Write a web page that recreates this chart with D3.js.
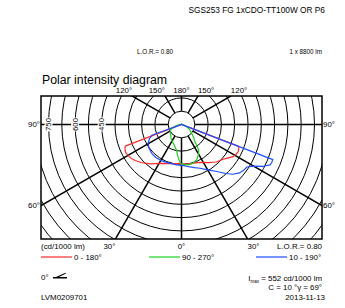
<!DOCTYPE html>
<html>
<head>
<meta charset="utf-8">
<script src="https://cdn.jsdelivr.net/npm/d3@7"></script>
<style>
  body { margin: 0; background: #fff; }
  text { font-family: "Liberation Sans", Arial, sans-serif; fill: #000; }
</style>
</head>
<body>
<script>
// ring values (cd/1000 lm) and spoke angles
const rings = [75, 150, 225, 300, 375, 450, 525, 600, 675, 750, 825, 900, 975, 1050, 1125];
const ringLabels = [450, 600, 750];
const spokes = [0, 30, 60, 90, 120, 150, 180];
const topLabels = [120, 150, 180];
const sideLabels = [90, 60];
const bottomLabels = [30, 0];

// [gamma, cd/1000lm] per half plane
const redC0 = [[0,225],[5,224],[10,226],[16,228],[22,232],[29,244],[35,262],[43,289],[50,305],[54,322],[58,342],[61,350],[64,354],[66.5,352],[69,345],[70,3],[90,2],[180,2]];
const redC180 = [[0,225],[3,220],[6,222],[12,226],[18,232],[28,248],[38,282],[47,314],[52,330],[56,342],[60,348],[63,352],[65,350],[67,346],[69,340],[70,3],[90,2],[180,2]];
const greenC90 = [[0,225],[5,229],[9,231],[16,228],[23,218],[29,196],[34,172],[38,124],[44,96],[49,76],[60,50],[67,32],[80,12],[90,4],[180,2]];
const greenC270 = [[0,225],[3,208],[7,178],[11,147],[15,135],[22,118],[31,106],[38,96],[45,86],[55,78],[64,70],[75,40],[85,12],[90,4],[180,2]];
const blueC10 = [[0,230],[3,232],[7,237],[11,243],[17,254],[23,268],[30,295],[37,332],[42,372],[46,404],[50,425],[52,431],[54,436],[57,440],[60,470],[63,519],[65.5,549],[67,552],[69,552],[70,3],[90,2],[180,2]];
const blueC190 = [[0,230],[7,229],[16,228],[24,231],[31,234],[38,236],[46,234],[55,226],[61,214],[66,198],[70,178],[71.5,3],[90,2],[180,2]];

const legend = [
  {name: '0 - 180°', color: '#ff2a2a', right: redC0, left: redC180, x: 41},
  {name: '90 - 270°', color: '#22d022', right: greenC90, left: greenC270, x: 149},
  {name: '10 - 190°', color: '#1f4fff', right: blueC10, left: blueC190, x: 256}
];

const width = 345, height = 308;
const box = {x0: 41, y0: 96, x1: 322, y1: 239};
const cx = 181.5, cy = 124.5;

const r = d3.scaleLinear().domain([0, 750]).range([0, 133]);

const svg = d3.select('body').append('svg')
  .attr('width', width)
  .attr('height', height);

svg.append('defs').append('clipPath').attr('id', 'clip')
  .append('rect')
  .attr('x', box.x0).attr('y', box.y0)
  .attr('width', box.x1 - box.x0).attr('height', box.y1 - box.y0);

// header
svg.append('text').attr('x', 325).attr('y', 13).attr('text-anchor', 'end')
  .style('font-size', '8.3px').text('SGS253 FG 1xCDO-TT100W OR P6');
svg.append('text').attr('x', 155).attr('y', 54).attr('text-anchor', 'middle')
  .style('font-size', '6.3px').text('L.O.R.= 0.80');
svg.append('text').attr('x', 322).attr('y', 54).attr('text-anchor', 'end')
  .style('font-size', '6.3px').text('1 x 8800 lm');
svg.append('text').attr('x', 42).attr('y', 84)
  .style('font-size', '12.3px').text('Polar intensity diagram');

const grid = svg.append('g').attr('clip-path', 'url(#clip)');

grid.selectAll('circle')
  .data(rings)
  .enter()
  .append('circle')
  .attr('cx', cx).attr('cy', cy)
  .attr('r', d => r(d))
  .attr('fill', 'none')
  .attr('stroke', '#000')
  .attr('stroke-width', 1);

// spokes on both sides, gamma measured from straight down
const spokeLines = [];
spokes.forEach(a => {
  spokeLines.push([a, 1]);
  if (a > 0 && a < 180) spokeLines.push([a, -1]);
});
grid.selectAll('line.spoke')
  .data(spokeLines)
  .enter()
  .append('line')
  .attr('class', 'spoke')
  .attr('x1', d => cx + d[1] * r(75) * Math.sin(d[0] * Math.PI / 180))
  .attr('y1', d => cy + r(75) * Math.cos(d[0] * Math.PI / 180))
  .attr('x2', d => cx + d[1] * 400 * Math.sin(d[0] * Math.PI / 180))
  .attr('y2', d => cy + 400 * Math.cos(d[0] * Math.PI / 180))
  .attr('stroke', '#000')
  .attr('stroke-width', 1.5);

// ring labels on the left horizontal
const rl = svg.selectAll('g.rl')
  .data(ringLabels)
  .enter()
  .append('g')
  .attr('class', 'rl')
  .attr('transform', d => `translate(${cx - r(d)},${cy}) rotate(-90)`);
rl.append('rect').attr('x', -7).attr('y', -4).attr('width', 14).attr('height', 8).attr('fill', '#fff');
rl.append('text').attr('text-anchor', 'middle').attr('y', 2.7)
  .style('font-size', '7.8px').text(d => d);

svg.append('rect')
  .attr('x', box.x0).attr('y', box.y0)
  .attr('width', box.x1 - box.x0).attr('height', box.y1 - box.y0)
  .attr('fill', 'none').attr('stroke', '#000').attr('stroke-width', 1.5);

// curves
const toXY = (d, side) => [
  cx + side * r(d[1]) * Math.sin(d[0] * Math.PI / 180),
  cy + r(d[1]) * Math.cos(d[0] * Math.PI / 180)
];
const line = d3.line().x(d => d[0]).y(d => d[1]);

const curves = svg.append('g').attr('clip-path', 'url(#clip)');
legend.forEach(s => {
  const pts = s.left.slice().reverse().map(d => toXY(d, -1))
    .concat(s.right.map(d => toXY(d, 1)));
  curves.append('path')
    .attr('d', line(pts) + 'Z')
    .attr('fill', 'none')
    .attr('stroke', s.color)
    .attr('stroke-width', 1.2)
    .attr('stroke-linejoin', 'round');
});

// angle labels
const fs = '7.9px';
topLabels.forEach(a => {
  const t = Math.tan((180 - a) * Math.PI / 180);
  const dx = a === 180 ? 0 : (cy - box.y0) * t;
  [-1, 1].forEach(side => {
    if (a === 180 && side === 1) return;
    svg.append('text')
      .attr('x', cx + side * dx)
      .attr('y', 93)
      .attr('text-anchor', a === 180 ? 'middle' : (side < 0 ? 'end' : 'start'))
      .style('font-size', fs).text(a + '°');
  });
});
sideLabels.forEach(a => {
  const dy = a === 90 ? 0 : (cx - box.x0) / Math.tan(a * Math.PI / 180);
  svg.append('text').attr('x', 40).attr('y', cy + dy + 2.8)
    .attr('text-anchor', 'end').style('font-size', fs).text(a + '°');
  svg.append('text').attr('x', 323).attr('y', cy + dy + 2.8)
    .style('font-size', fs).text(a + '°');
});
bottomLabels.forEach(a => {
  const dx = (box.y1 - cy) * Math.tan(a * Math.PI / 180);
  [-1, 1].forEach(side => {
    if (a === 0 && side === 1) return;
    svg.append('text')
      .attr('x', cx + side * dx)
      .attr('y', 249)
      .attr('text-anchor', a === 0 ? 'middle' : (side < 0 ? 'end' : 'start'))
      .style('font-size', fs).text(a + '°');
  });
});
svg.append('text').attr('x', 41).attr('y', 249).style('font-size', fs).text('(cd/1000 lm)');
svg.append('text').attr('x', 322).attr('y', 249).attr('text-anchor', 'end')
  .style('font-size', fs).text('L.O.R.= 0.80');

// legend
const lg = svg.selectAll('g.lg')
  .data(legend)
  .enter()
  .append('g')
  .attr('class', 'lg')
  .attr('transform', d => `translate(${d.x},257)`);
lg.append('line').attr('x1', 0).attr('x2', 31).attr('y1', 0).attr('y2', 0)
  .attr('stroke', d => d.color).attr('stroke-width', 1.2);
lg.append('text').attr('x', 33).attr('y', 2.8).style('font-size', fs).text(d => d.name);

// footer
svg.append('text').attr('x', 41).attr('y', 280).style('font-size', fs).text('0°');
svg.append('path')
  .attr('d', 'M53,278.5 L67,278.5 L67,277 L59,277 L66,273.5 L65.5,272.8 L56,277 L53,277 Z')
  .attr('fill', '#000');

const imax = svg.append('text').attr('x', 322).attr('y', 281).attr('text-anchor', 'end')
  .style('font-size', fs);
imax.append('tspan').text('I');
imax.append('tspan').attr('dy', 1.5).style('font-size', '4.5px').text('max');
imax.append('tspan').attr('dy', -1.5).text(' = 552 cd/1000 lm');
svg.append('text').attr('x', 322).attr('y', 290).attr('text-anchor', 'end')
  .style('font-size', fs).text('C = 10  °γ = 69°');
svg.append('text').attr('x', 41).attr('y', 300).style('font-size', fs).text('LVM0209701');
svg.append('text').attr('x', 325).attr('y', 300).attr('text-anchor', 'end')
  .style('font-size', fs).text('2013-11-13');
</script>
</body>
</html>
